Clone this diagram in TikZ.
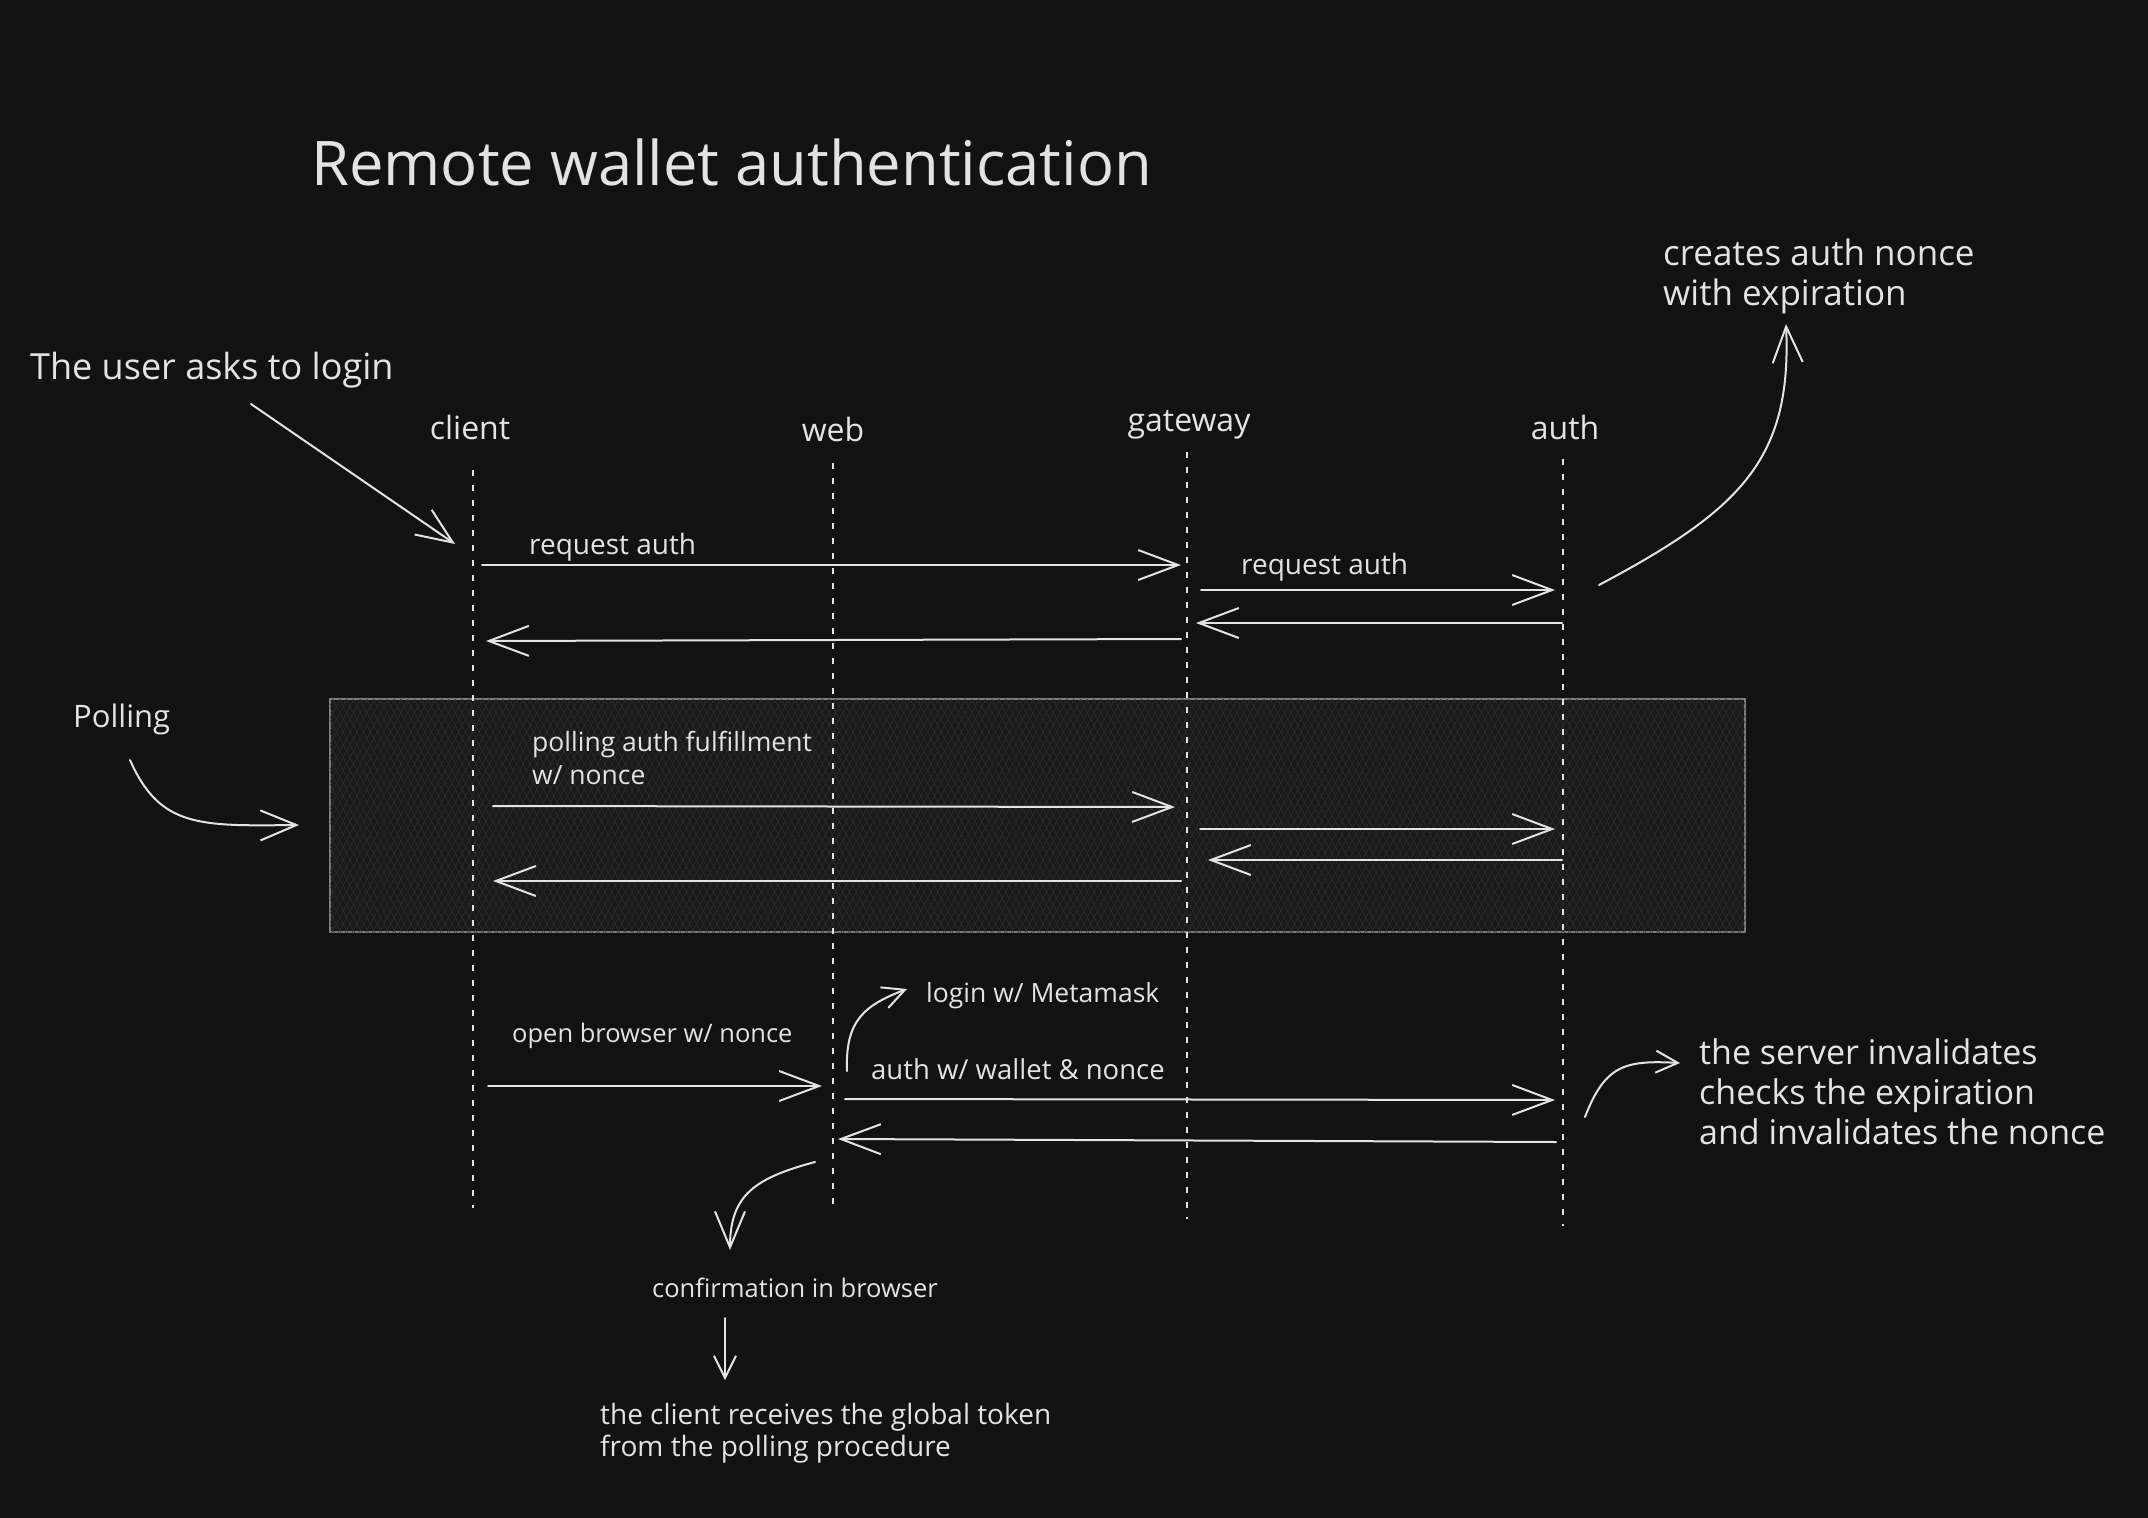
\documentclass[tikz,border=0pt]{standalone}
\usepackage{fontspec}
\setmainfont{Open Sans}
\usetikzlibrary{arrows.meta,patterns.meta}
\definecolor{bg}{HTML}{121212}
\definecolor{ink}{HTML}{E3E3E3}
\definecolor{boxfill}{HTML}{1A1A1A}
\definecolor{hatch}{HTML}{303030}
\definecolor{boxline}{HTML}{7C7C7C}
\begin{document}
\begin{tikzpicture}[x=1pt,y=-1pt,
  every node/.style={text=ink, inner sep=0pt},
  small/.style={font=\fontsize{26.5}{33}\selectfont, align=left, anchor=west},
  medium/.style={font=\fontsize{34.5}{40}\selectfont, align=left, anchor=west},
  actor/.style={font=\fontsize{32}{38}\selectfont},
  lifeline/.style={draw=ink, line width=1.6pt, dash pattern=on 6pt off 9pt},
  msg/.style={draw=ink, line width=2pt, line cap=round, -{Straight Barb[length=40pt,width=30pt]}},
  note/.style={draw=ink, line width=2pt, line cap=round, -{Straight Barb[length=36pt,width=30pt]}},
  smallnote/.style={draw=ink, line width=2pt, line cap=round, -{Straight Barb[length=22pt,width=22pt]}},
  region/.style={draw=boxline, line width=2pt, fill=boxfill,
    postaction={pattern={Lines[angle=62,distance=6pt,line width=0.5pt]}, pattern color=hatch},
    postaction={pattern={Lines[angle=118,distance=6pt,line width=0.5pt]}, pattern color=hatch}},
]
\useasboundingbox[fill=bg] (0,0) rectangle (2148,1518);

% polling region
\node[region, minimum width=1415pt, minimum height=233pt] (pollbox) at (1037.5,815.5) {};

% title
\node[font=\fontsize{61.5}{72}\selectfont, anchor=west] (title) at (311,162) {Remote wallet authentication};

% actors
\node[actor] (client) at (470,427) {client};
\node[actor] (web) at (833,429) {web};
\node[actor] (gateway) at (1189,425) {gateway};
\node[actor] (auth) at (1565,427) {auth};

% lifelines
\coordinate (clT) at (473,470);  \coordinate (clB) at (473,1208);
\coordinate (wbT) at (833,463);  \coordinate (wbB) at (833,1206);
\coordinate (gwT) at (1187,452); \coordinate (gwB) at (1187,1219);
\coordinate (auT) at (1563,459); \coordinate (auB) at (1563,1226);
\draw[lifeline] (clT) -- (clB);
\draw[lifeline] (wbT) -- (wbB);
\draw[lifeline] (gwT) -- (gwB);
\draw[lifeline] (auT) -- (auB);

% notes
\node[medium, font=\fontsize{36}{40}\selectfont] (user) at (30,370) {The user asks to login};
\node[medium, font=\fontsize{35}{40}\selectfont] (creates) at (1663,276) {creates auth nonce\\with expiration};
\node[medium, font=\fontsize{31}{40}\selectfont] (pollingtxt) at (73,719) {Polling};
\node[medium, font=\fontsize{34}{40}\selectfont] (server) at (1699,1092) {the server invalidates\\checks the expiration\\and invalidates the nonce};

% message labels
\node[small, font=\fontsize{28}{33}\selectfont] (req1) at (529,547) {request auth};
\node[small, font=\fontsize{28}{33}\selectfont] (req2) at (1241,567) {request auth};
\node[small] (polltxt) at (532,758) {polling auth fulfillment\\w/ nonce};
\node[small, font=\fontsize{25.5}{33}\selectfont] (openb) at (512,1036) {open browser w/ nonce};
\node[small] (meta) at (926,996) {login w/ Metamask};
\node[small, font=\fontsize{27.5}{33}\selectfont] (authw) at (871,1069) {auth w/ wallet \& nonce};
\node[small, font=\fontsize{25.5}{33}\selectfont] (confirm) at (652,1288) {confirmation in browser};
\node[small, font=\fontsize{28}{32}\selectfont] (token) at (600,1433) {the client receives the global token\\from the polling procedure};

% first phase
\coordinate (a1s) at (482,565);  \coordinate (a1e) at (1181,565);
\coordinate (a2s) at (1201,590); \coordinate (a2e) at (1555,590);
\coordinate (a3s) at (1562,623); \coordinate (a3e) at (1196,623);
\coordinate (a4s) at (1181,639); \coordinate (a4e) at (486,641);
\draw[msg] (a1s) -- (a1e);
\draw[msg] (a2s) -- (a2e);
\draw[msg] (a3s) -- (a3e);
\draw[msg] (a4s) -- (a4e);

% polling phase
\coordinate (p1s) at (493,806);  \coordinate (p1e) at (1175,807);
\coordinate (p2s) at (1200,829); \coordinate (p2e) at (1555,829);
\coordinate (p3s) at (1562,860); \coordinate (p3e) at (1208,860);
\coordinate (p4s) at (1181,881); \coordinate (p4e) at (493,881);
\draw[msg] (p1s) -- (p1e);
\draw[msg] (p2s) -- (p2e);
\draw[msg] (p3s) -- (p3e);
\draw[msg] (p4s) -- (p4e);

% browser phase
\coordinate (b1s) at (488,1086);  \coordinate (b1e) at (822,1086);
\coordinate (b2s) at (845,1099);  \coordinate (b2e) at (1555,1100);
\coordinate (b3s) at (1556,1142); \coordinate (b3e) at (838,1139);
\draw[msg] (b1s) -- (b1e);
\draw[msg] (b2s) -- (b2e);
\draw[msg] (b3s) -- (b3e);

% annotation arrows
\coordinate (userS) at (251,404); \coordinate (userE) at (455,544);
\draw[note] (userS) -- (userE);

\coordinate (crS) at (1599,585); \coordinate (crE) at (1786,324);
\draw[note] (crS) .. controls (1740,510) and (1792,460) .. (crE);

\coordinate (plS) at (130,760); \coordinate (plE) at (299,825);
\draw[note] (plS) .. controls (160,828) and (200,826) .. (plE);

\coordinate (mmS) at (847,1071); \coordinate (mmE) at (907,989);
\draw[smallnote] (mmS) .. controls (845,1020) and (865,1005) .. (mmE);

\coordinate (svS) at (1585,1117); \coordinate (svE) at (1680,1063);
\draw[smallnote] (svS) .. controls (1605,1065) and (1625,1060) .. (svE);

\coordinate (cfS) at (815,1162); \coordinate (cfE) at (730,1250);
\draw[note] (cfS) .. controls (755,1178) and (730,1195) .. (cfE);

\coordinate (tkS) at (725,1318); \coordinate (tkE) at (725,1380);
\draw[smallnote] (tkS) -- (tkE);
\end{tikzpicture}
\end{document}
